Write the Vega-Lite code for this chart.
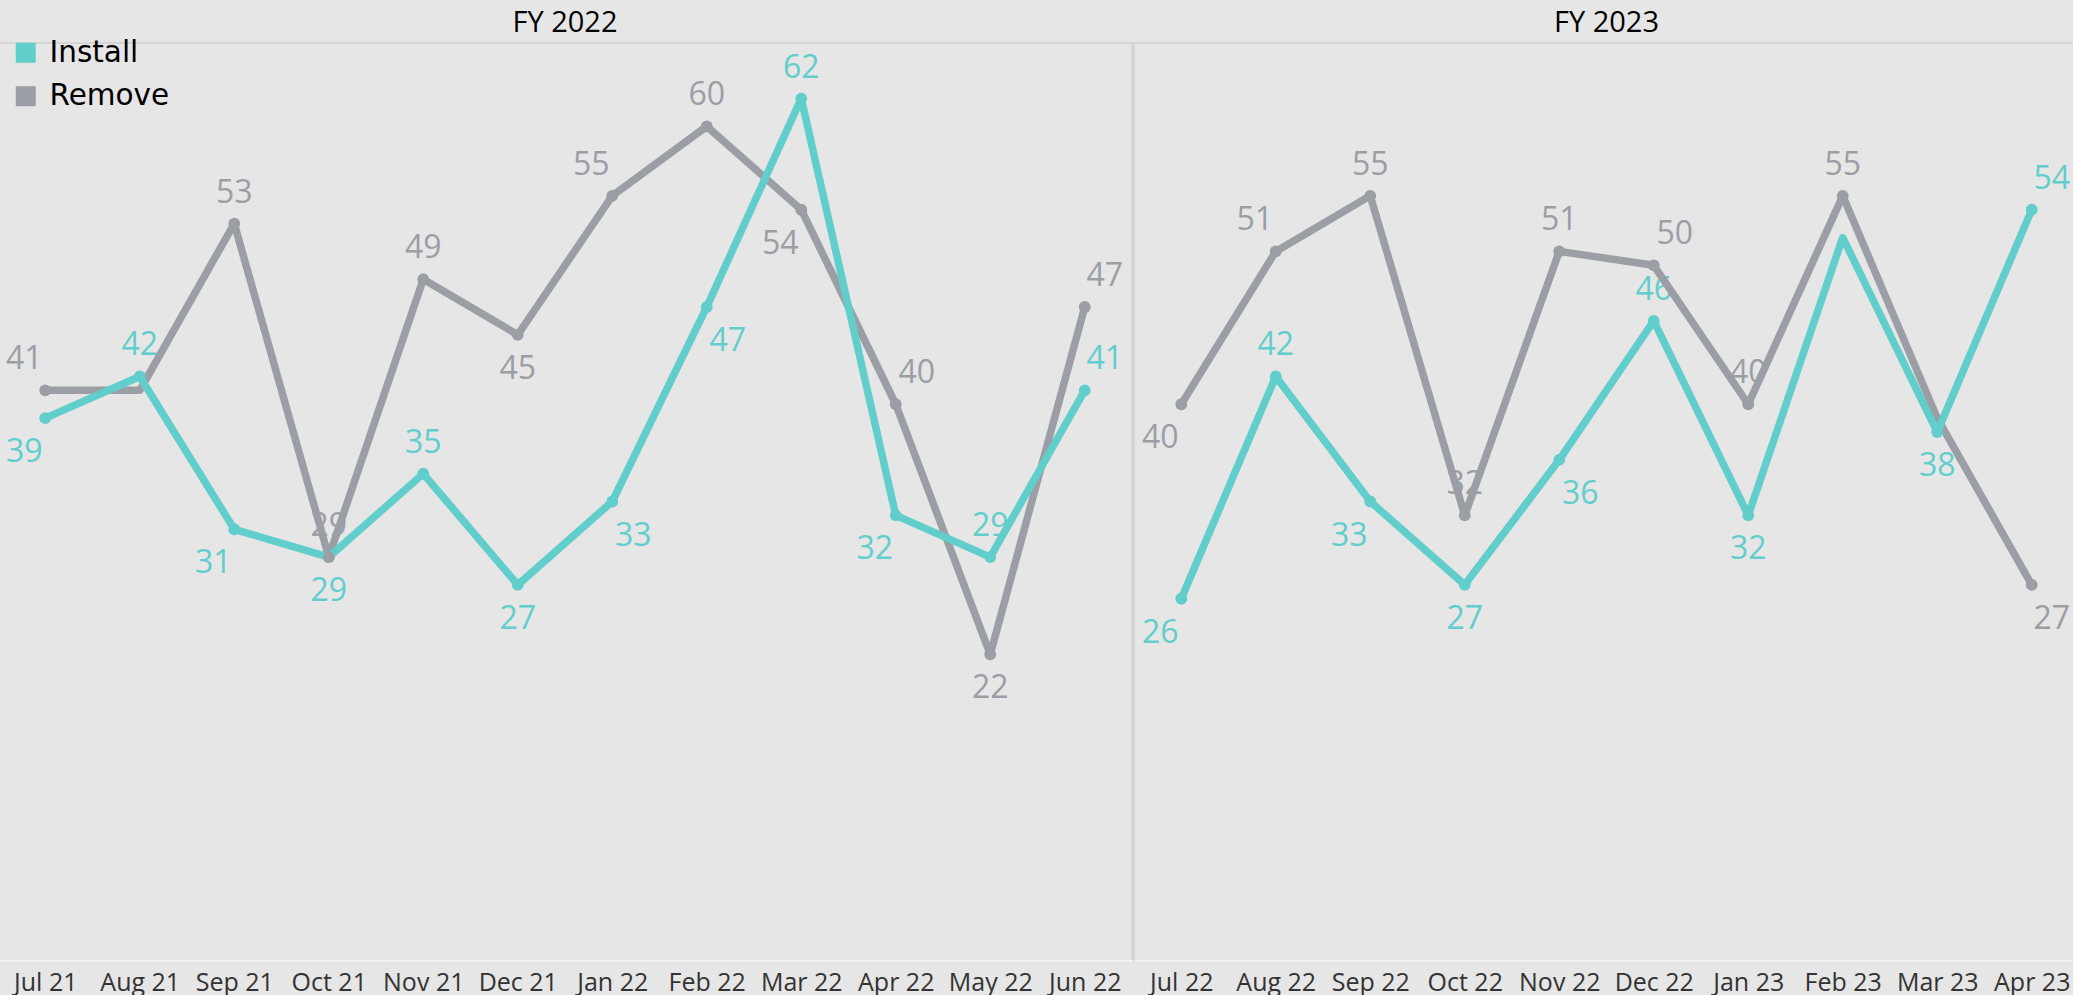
{
  "$schema": "https://vega.github.io/schema/vega-lite/v6.json",
  "background": "#e6e6e6",
  "padding": {"left": -3, "top": 9, "right": 0, "bottom": 0},
  "data": {"values": [
    {"FY": "FY 2022", "date": "2021-07", "month": "Jul 21", "Install": 39, "Remove": 41},
    {"FY": "FY 2022", "date": "2021-08", "month": "Aug 21", "Install": 42, "Remove": 41},
    {"FY": "FY 2022", "date": "2021-09", "month": "Sep 21", "Install": 31, "Remove": 53},
    {"FY": "FY 2022", "date": "2021-10", "month": "Oct 21", "Install": 29, "Remove": 29},
    {"FY": "FY 2022", "date": "2021-11", "month": "Nov 21", "Install": 35, "Remove": 49},
    {"FY": "FY 2022", "date": "2021-12", "month": "Dec 21", "Install": 27, "Remove": 45},
    {"FY": "FY 2022", "date": "2022-01", "month": "Jan 22", "Install": 33, "Remove": 55},
    {"FY": "FY 2022", "date": "2022-02", "month": "Feb 22", "Install": 47, "Remove": 60},
    {"FY": "FY 2022", "date": "2022-03", "month": "Mar 22", "Install": 62, "Remove": 54},
    {"FY": "FY 2022", "date": "2022-04", "month": "Apr 22", "Install": 32, "Remove": 40},
    {"FY": "FY 2022", "date": "2022-05", "month": "May 22", "Install": 29, "Remove": 22},
    {"FY": "FY 2022", "date": "2022-06", "month": "Jun 22", "Install": 41, "Remove": 47},
    {"FY": "FY 2023", "date": "2022-07", "month": "Jul 22", "Install": 26, "Remove": 40},
    {"FY": "FY 2023", "date": "2022-08", "month": "Aug 22", "Install": 42, "Remove": 51},
    {"FY": "FY 2023", "date": "2022-09", "month": "Sep 22", "Install": 33, "Remove": 55},
    {"FY": "FY 2023", "date": "2022-10", "month": "Oct 22", "Install": 27, "Remove": 32},
    {"FY": "FY 2023", "date": "2022-11", "month": "Nov 22", "Install": 36, "Remove": 51},
    {"FY": "FY 2023", "date": "2022-12", "month": "Dec 22", "Install": 46, "Remove": 50},
    {"FY": "FY 2023", "date": "2023-01", "month": "Jan 23", "Install": 32, "Remove": 40},
    {"FY": "FY 2023", "date": "2023-02", "month": "Feb 23", "Install": 52, "Remove": 55},
    {"FY": "FY 2023", "date": "2023-03", "month": "Mar 23", "Install": 38, "Remove": 39},
    {"FY": "FY 2023", "date": "2023-04", "month": "Apr 23", "Install": 54, "Remove": 27}
  ], "format": {"parse": {"date": "utc:'%Y-%m'"}}},
  "transform": [
    {"fold": ["Install", "Remove"], "as": ["series", "value"]},
    {"window": [{"op": "lag", "field": "value", "as": "p"}, {"op": "lead", "field": "value", "as": "n"}], "groupby": ["FY", "series"], "sort": [{"field": "date", "order": "ascending"}]}
  ],
  "facet": {"column": {"field": "FY", "type": "nominal", "header": {"title": null, "labelFontSize": 29, "labelFont": "Open Sans", "labelColor": "#000000", "labelPadding": -19, "labelBaseline": "alphabetic"}}},
  "spacing": 0,
  "resolve": {"scale": {"x": "independent"}},
  "spec": {
    "width": {"step": 94.5},
    "height": 917,
    "encoding": {
      "x": {"field": "month", "type": "nominal", "sort": {"field": "date", "op": "min"}, "axis": {"title": null, "labelAngle": 0, "labelFontSize": 25, "labelFont": "Open Sans", "labelColor": "#333333", "ticks": false, "tickSize": 0, "domainColor": "#f4f4f4", "domainWidth": 2, "labelPadding": 30, "labelBaseline": "alphabetic", "grid": false, "labelOverlap": false}},
      "y": {"field": "value", "type": "quantitative", "scale": {"domain": [0, 66], "nice": false}, "axis": null},
      "color": {"field": "series", "type": "nominal", "scale": {"domain": ["Install", "Remove"], "range": ["#62cecc", "#9b9ea4"]},
        "legend": {"orient": "none", "legendX": 13, "legendY": -5, "title": null, "padding": 0, "labelFontSize": 29.5, "labelFont": "DejaVu Sans", "labelColor": "#000000", "labelOffset": 9, "rowPadding": 12.5, "symbolType": "square", "symbolSize": 340,
          "encode": {"symbols": {"update": {"fill": {"scale": "color", "field": "value"}, "stroke": {"value": "transparent"}, "shape": {"value": "square"}, "size": {"value": 340}, "opacity": {"value": 1}}}}}}
    },
    "layer": [
      {
        "transform": [{"filter": "datum.series=='Install'&&!((datum.value>=(datum.p==null?datum.n:datum.p)&&datum.value>=(datum.n==null?datum.p:datum.n))&&(datum.Remove-datum.value)>0&&(datum.Remove-datum.value)<=3)"}],
        "mark": {"type": "text", "font": "Open Sans", "fontSize": 32, "baseline": "middle", "align": "center",
          "dy": {"expr": "((datum.value>=(datum.p==null?datum.n:datum.p)&&datum.value>=(datum.n==null?datum.p:datum.n))||((datum.value<=(datum.p==null?datum.n:datum.p)&&datum.value<=(datum.n==null?datum.p:datum.n))?((datum.Remove-datum.value)<0&&(datum.Remove-datum.value)>=-10):(datum.Remove-datum.value)<0))?-31:34"},
          "dx": {"expr": "datum.p==null?-21:(datum.n==null?20:(((datum.value>=(datum.p==null?datum.n:datum.p)&&datum.value>=(datum.n==null?datum.p:datum.n))||(datum.value<=(datum.p==null?datum.n:datum.p)&&datum.value<=(datum.n==null?datum.p:datum.n)))?0:((datum.n>datum.value)==((datum.value>=(datum.p==null?datum.n:datum.p)&&datum.value>=(datum.n==null?datum.p:datum.n))||((datum.value<=(datum.p==null?datum.n:datum.p)&&datum.value<=(datum.n==null?datum.p:datum.n))?((datum.Remove-datum.value)<0&&(datum.Remove-datum.value)>=-10):(datum.Remove-datum.value)<0))?-21:21)))"}},
        "encoding": {"text": {"field": "value", "type": "quantitative"}}
      },
      {
        "transform": [{"filter": "datum.series=='Remove'&&abs(datum.Install-datum.value)!=1"}],
        "mark": {"type": "text", "font": "Open Sans", "fontSize": 32, "baseline": "middle", "align": "center",
          "dy": {"expr": "((datum.value>=(datum.p==null?datum.n:datum.p)&&datum.value>=(datum.n==null?datum.p:datum.n))||((datum.value<=(datum.p==null?datum.n:datum.p)&&datum.value<=(datum.n==null?datum.p:datum.n))?((datum.Install-datum.value)<=0&&(datum.Install-datum.value)>=-10):(datum.Install-datum.value)<=0))?-31:34"},
          "dx": {"expr": "datum.p==null?-21:(datum.n==null?20:(((datum.value>=(datum.p==null?datum.n:datum.p)&&datum.value>=(datum.n==null?datum.p:datum.n))||(datum.value<=(datum.p==null?datum.n:datum.p)&&datum.value<=(datum.n==null?datum.p:datum.n)))?0:((datum.n>datum.value)==((datum.value>=(datum.p==null?datum.n:datum.p)&&datum.value>=(datum.n==null?datum.p:datum.n))||((datum.value<=(datum.p==null?datum.n:datum.p)&&datum.value<=(datum.n==null?datum.p:datum.n))?((datum.Install-datum.value)<=0&&(datum.Install-datum.value)>=-10):(datum.Install-datum.value)<=0))?-21:21)))"}},
        "encoding": {"text": {"field": "value", "type": "quantitative"}}
      },
      {
        "transform": [{"filter": "datum.series=='Remove'"}],
        "mark": {"type": "line", "strokeWidth": 7.5, "strokeJoin": "round", "strokeCap": "round"},
        "encoding": {}
      },
      {
        "transform": [{"filter": "datum.series=='Install'"}],
        "mark": {"type": "line", "strokeWidth": 7.5, "strokeJoin": "round", "strokeCap": "round"},
        "encoding": {}
      },
      {
        "transform": [{"filter": "(datum.series=='Install'&&!((datum.value>=(datum.p==null?datum.n:datum.p)&&datum.value>=(datum.n==null?datum.p:datum.n))&&(datum.Remove-datum.value)>0&&(datum.Remove-datum.value)<=3))||(datum.series=='Remove'&&abs(datum.Install-datum.value)!=1)"}],
        "mark": {"type": "point", "filled": true, "size": 140, "opacity": 1},
        "encoding": {}
      }
    ]
  },
  "config": {
    "view": {"stroke": "#cfcfcf", "strokeWidth": 1.5},
    "font": "Open Sans"
  }
}
